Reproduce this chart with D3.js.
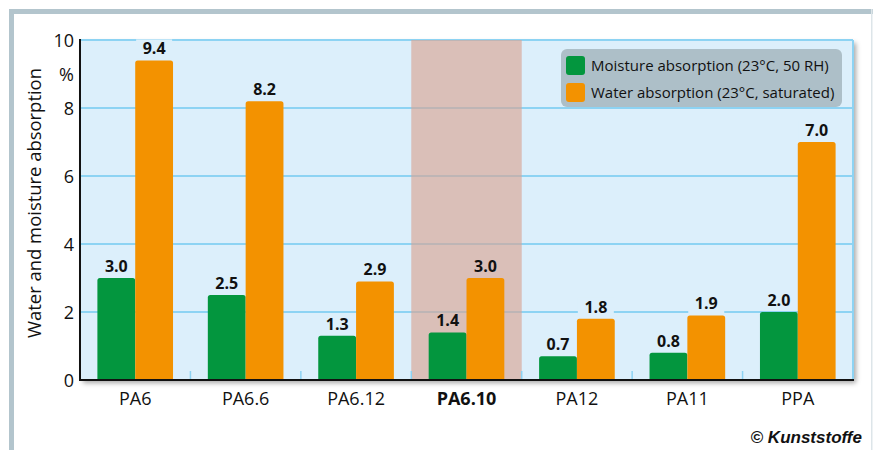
<!DOCTYPE html>
<head>
<meta charset="utf-8">
<script src="https://cdn.jsdelivr.net/npm/d3@7"></script>
<style>
body { margin: 0; background: #fff; font-family: "Open Sans", "Noto Sans", sans-serif; }
</style>
</head>
<body>
<svg></svg>
<script>
var categories = ["PA6", "PA6.6", "PA6.12", "PA6.10", "PA12", "PA11", "PPA"];
var moisture = [3.0, 2.5, 1.3, 1.4, 0.7, 0.8, 2.0];
var water = [9.4, 8.2, 2.9, 3.0, 1.8, 1.9, 7.0];
var yTicks = [0, 2, 4, 6, 8, 10];
var seriesNames = ["Moisture absorption (23°C, 50 RH)", "Water absorption (23°C, saturated)"];
var highlight = "PA6.10";

var width = 874, height = 450;
var plotL = 80, plotR = 853, plotT = 40, plotB = 380;
var green = "#03963e", orange = "#f39200";

var svg = d3.select("svg").attr("width", width).attr("height", height);

var defs = svg.append("defs");
var f = defs.append("filter").attr("id", "shadow")
  .attr("x", "-5%").attr("y", "-10%").attr("width", "110%").attr("height", "120%");
f.append("feDropShadow").attr("dx", 3).attr("dy", 3).attr("stdDeviation", 2.5)
  .attr("flood-color", "#000").attr("flood-opacity", 0.35);

// outer frame
svg.append("rect").attr("x", 9).attr("y", 9).attr("width", 864).attr("height", 5).attr("fill", "#b3c5cd");
svg.append("rect").attr("x", 9).attr("y", 9).attr("width", 5).attr("height", 441).attr("fill", "#b3c5cd");
svg.append("rect").attr("x", 871).attr("y", 9).attr("width", 1.5).attr("height", 441).attr("fill", "#dde5e9");

var x = d3.scaleBand().domain(categories).range([plotL, plotR]);
var inner = d3.scaleBand().domain([0, 1]).range([0, x.bandwidth()]).paddingOuter(0.46).paddingInner(0);
var y = d3.scaleLinear().domain([0, 10]).range([plotB, plotT]);

// plot background
svg.append("rect").attr("x", plotL).attr("y", plotT).attr("width", plotR - plotL).attr("height", plotB - plotT)
  .attr("fill", "#dcefFb").attr("filter", "url(#shadow)");

// gridlines
svg.append("g").selectAll("line").data(yTicks.filter(function(d) { return d > 0; })).enter().append("line")
  .attr("x1", plotL).attr("x2", plotR).attr("y1", function(d) { return y(d); }).attr("y2", function(d) { return y(d); })
  .attr("stroke", "#8dd3f3").attr("stroke-width", 2);

// right border
svg.append("line").attr("x1", plotR).attr("x2", plotR).attr("y1", plotT).attr("y2", plotB)
  .attr("stroke", "#8dd3f3").attr("stroke-width", 2);

// highlight band
svg.append("rect").attr("x", x(highlight)).attr("y", plotT).attr("width", x.bandwidth()).attr("height", plotB - plotT)
  .attr("fill", "#d9a594").attr("opacity", 0.65);

// band separators at bottom
svg.append("g").selectAll("line").data(categories.slice(1)).enter().append("line")
  .attr("x1", function(d) { return x(d); }).attr("x2", function(d) { return x(d); })
  .attr("y1", plotB - 9).attr("y2", plotB).attr("stroke", "#8dd3f3").attr("stroke-width", 1.5);

var data = [];
categories.forEach(function(c, i) {
  data.push({cat: c, s: 0, v: moisture[i]});
  data.push({cat: c, s: 1, v: water[i]});
});

function barPath(x0, w, yTop, yBot, r) {
  return "M" + x0 + "," + yBot + "V" + (yTop + r) + "Q" + x0 + "," + yTop + " " + (x0 + r) + "," + yTop +
    "H" + (x0 + w - r) + "Q" + (x0 + w) + "," + yTop + " " + (x0 + w) + "," + (yTop + r) + "V" + yBot + "Z";
}

svg.append("g").selectAll("path").data(data).enter().append("path")
  .attr("d", function(d) { return barPath(x(d.cat) + inner(d.s), inner.bandwidth(), y(d.v), plotB, 2.5); })
  .attr("fill", function(d) { return d.s ? orange : green; });

// value labels with background masks
var lab = svg.append("g").selectAll("g").data(data).enter().append("g")
  .attr("transform", function(d) { return "translate(" + (x(d.cat) + inner(d.s) + inner.bandwidth() / 2) + "," + (y(d.v) - 6) + ")"; });
lab.append("rect").attr("x", -18).attr("y", -15).attr("width", 36).attr("height", 19)
  .attr("fill", function(d) { return d.cat === highlight ? "none" : "#dcefFb"; });
lab.append("text").attr("text-anchor", "middle").attr("font-size", 16).attr("font-weight", "bold")
  .attr("fill", "#111").text(function(d) { return d.v.toFixed(1); });

// axes lines
svg.append("line").attr("x1", plotL).attr("x2", plotL).attr("y1", plotT - 1).attr("y2", plotB + 1)
  .attr("stroke", "#111").attr("stroke-width", 2);
svg.append("line").attr("x1", plotL - 1).attr("x2", plotR + 1).attr("y1", plotB).attr("y2", plotB)
  .attr("stroke", "#111").attr("stroke-width", 2);

// y tick labels
svg.append("g").selectAll("text").data(yTicks).enter().append("text")
  .attr("x", plotL - 6).attr("y", function(d) { return y(d) + 6.5; })
  .attr("text-anchor", "end").attr("font-size", 18).attr("fill", "#111").text(function(d) { return d; });
svg.append("text").attr("x", plotL - 6).attr("y", y(9) + 7).attr("text-anchor", "end")
  .attr("font-size", 18).attr("fill", "#111").text("%");

svg.append("text").attr("transform", "translate(41," + 203 + ") rotate(-90)")
  .attr("text-anchor", "middle").attr("font-size", 18).attr("fill", "#111")
  .attr("textLength", 270).attr("lengthAdjust", "spacingAndGlyphs")
  .text("Water and moisture absorption");

// x labels
svg.append("g").selectAll("text").data(categories).enter().append("text")
  .attr("x", function(d) { return x(d) + x.bandwidth() / 2; }).attr("y", 405)
  .attr("text-anchor", "middle").attr("font-size", 18).attr("fill", "#111")
  .attr("font-weight", function(d) { return d === highlight ? "bold" : "normal"; })
  .text(function(d) { return d; });

// legend
var lg = svg.append("g");
lg.append("rect").attr("x", 561).attr("y", 49).attr("width", 281).attr("height", 58).attr("rx", 6)
  .attr("fill", "#adbfc8");
seriesNames.forEach(function(n, i) {
  lg.append("rect").attr("x", 566).attr("y", 56 + i * 27).attr("width", 19).attr("height", 19).attr("rx", 3)
    .attr("fill", i ? orange : green);
  lg.append("text").attr("x", 591).attr("y", 71 + i * 27).attr("font-size", 15).attr("fill", "#111").text(n);
});

svg.append("text").attr("x", 862).attr("y", 443).attr("text-anchor", "end")
  .attr("font-family", "'Liberation Sans Narrow', 'Liberation Sans', sans-serif")
  .attr("font-size", 17).attr("font-weight", "bold").attr("font-style", "italic").attr("fill", "#111")
  .text("© Kunststoffe");
</script>
</body>
